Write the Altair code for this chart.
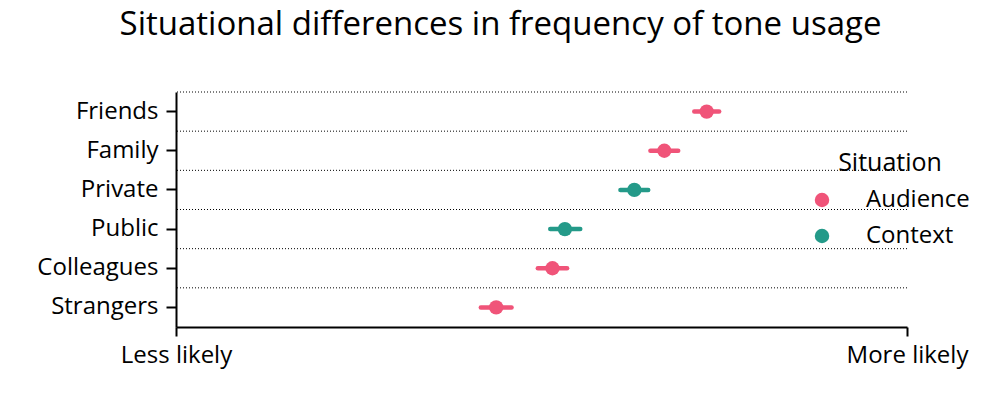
import altair as alt
import pandas as pd

categories = ["Friends", "Family", "Private", "Public", "Colleagues", "Strangers"]
situation = ["Audience", "Audience", "Context", "Context", "Audience", "Audience"]
estimate = [0.726, 0.668, 0.627, 0.532, 0.515, 0.438]
lower = [0.709, 0.649, 0.608, 0.512, 0.495, 0.417]
upper = [0.743, 0.687, 0.646, 0.553, 0.535, 0.459]
x_ticks = [0, 1]
x_tick_labels = ["Less likely", "More likely"]

df = pd.DataFrame({"cat": categories, "Situation": situation,
                   "est": estimate, "lo": lower, "hi": upper})

FONT = "Open Sans"
LFS = 24
colors = alt.Scale(domain=["Audience", "Context"], range=["#f05479", "#249a89"])
yscale = alt.Scale(domain=categories, paddingInner=0, paddingOuter=0)
xscale = alt.Scale(domain=[0, 1], nice=False, zero=False)

label_expr = "datum.value == 0 ? '" + x_tick_labels[0] + "' : '" + x_tick_labels[1] + "'"

yaxis = alt.Axis(domainColor="black", domainWidth=2, tickColor="black",
                 tickWidth=2, tickSize=10, labelPadding=8, labelFontSize=LFS,
                 labelColor="black", labelFont=FONT, grid=False)
xaxis = alt.Axis(values=x_ticks, labelExpr=label_expr, domainColor="black",
                 domainWidth=2, tickColor="black", tickWidth=2, tickSize=9,
                 labelFontSize=LFS, labelFont=FONT, labelColor="black",
                 labelPadding=7, grid=False, labelFlush=False)
legend = alt.Legend(orient="none", legendX=634, legendY=59,
                    title="Situation", titleFontSize=25,
                    titleFont=FONT, titleFontWeight="normal",
                    titleColor="black", titleAnchor="middle",
                    titlePadding=12,
                    labelFontSize=LFS, labelFont=FONT, labelColor="black",
                    labelOffset=32, symbolSize=210, symbolType="circle",
                    rowPadding=12, symbolStrokeWidth=0)

base = alt.Chart(df)

grid = base.mark_rule(color="black", strokeWidth=1, strokeDash=[1, 2]).encode(
    y=alt.Y("cat:N", scale=yscale, bandPosition=0, title=None, axis=yaxis)
)

bars = base.mark_rule(strokeWidth=4.5, strokeCap="round").encode(
    y=alt.Y("cat:N", scale=yscale, title=None, axis=yaxis),
    x=alt.X("lo:Q", scale=xscale, title=None, axis=xaxis),
    x2="hi:Q",
    color=alt.Color("Situation:N", scale=colors, legend=legend),
)

points = base.mark_circle(size=205, opacity=1).encode(
    y=alt.Y("cat:N", scale=yscale, title=None, axis=yaxis),
    x=alt.X("est:Q", scale=xscale, title=None, axis=xaxis),
    color=alt.Color("Situation:N", scale=colors, legend=legend),
)

chart = alt.layer(grid, bars, points).properties(
    width=731, height=235,
    background="white",
    title=alt.TitleParams("Situational differences in frequency of tone usage",
                          fontSize=33, font=FONT, fontWeight="normal", color="black",
                          anchor="middle", dx=-41, offset=50),
    padding={"left": 168, "top": 84, "right": 85, "bottom": 64},
    autosize=alt.AutoSizeParams(type="none"),
).configure_view(stroke=None)

chart.save("out.html", embed_options={"renderer": "svg", "actions": False})
